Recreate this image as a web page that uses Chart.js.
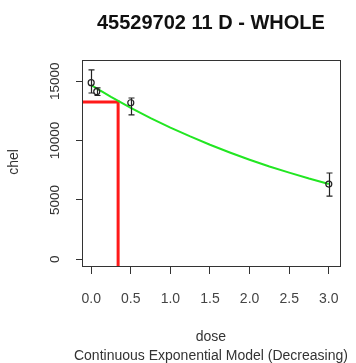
<!DOCTYPE html>
<html><head><meta charset="utf-8">
<script src="https://cdn.jsdelivr.net/npm/chart.js@4/dist/chart.umd.min.js"></script>
<style>html,body{margin:0;padding:0;background:#fff}canvas{display:block}</style>
</head><body>
<canvas id="c" width="356" height="363"></canvas>
<script>
// Observed group means with their confidence limits
const doses   = [0, 0.07, 0.5, 3.0];
const means   = [14880, 14120, 13190, 6340];
const lowerCI = [14010, 13800, 12160, 5330];
const upperCI = [15950, 14450, 13590, 7270];

// Fitted continuous exponential model, sampled along the dose axis
const fitDoses  = [0, 0.25, 0.5, 0.75, 1.0, 1.25, 1.5, 1.75, 2.0, 2.25, 2.5, 2.75, 3.0];
const fitValues = [14680, 13690, 12760, 11900, 11100, 10350, 9650, 9000, 8390, 7820, 7300, 6800, 6340];

// Benchmark dose and the response level it corresponds to
const bmd = 0.34;
const bmrLevel = 13250;

const xTicks = [0, 0.5, 1.0, 1.5, 2.0, 2.5, 3.0];
const yTicks = [0, 5000, 10000, 15000];

const titleText = '45529702 11 D - WHOLE';
const xTitle = 'dose';
const yTitle = 'chel';
const subTitle = 'Continuous Exponential Model (Decreasing)';

const X_MIN = -0.116, X_MAX = 3.14;
const Y_MIN = -565, Y_MAX = 16790;

const FONT = '"Liberation Sans", Arial, sans-serif';

const decor = {
  id: 'decor',
  afterDatasetsDraw(chart) {
    const ctx = chart.ctx, xs = chart.scales.x, ys = chart.scales.y;
    ctx.save();
    ctx.strokeStyle = '#222';
    ctx.lineWidth = 1.2;
    for (let i = 0; i < doses.length; i++) {
      const px = Math.round(xs.getPixelForValue(doses[i])) + 0.5;
      const y1 = ys.getPixelForValue(lowerCI[i]);
      const y2 = ys.getPixelForValue(upperCI[i]);
      ctx.beginPath();
      ctx.moveTo(px, y1); ctx.lineTo(px, y2);
      ctx.moveTo(px - 3, y1); ctx.lineTo(px + 3, y1);
      ctx.moveTo(px - 3, y2); ctx.lineTo(px + 3, y2);
      ctx.stroke();
    }
    ctx.restore();
  },
  afterDraw(chart) {
    const ctx = chart.ctx, a = chart.chartArea, ys = chart.scales.y;
    ctx.save();
    // plot frame
    ctx.strokeStyle = '#333';
    ctx.lineWidth = 1;
    ctx.strokeRect(Math.round(a.left) + 0.5, Math.round(a.top) + 0.5,
                   Math.round(a.right - a.left), Math.round(a.bottom - a.top));
    const cx = (a.left + a.right) / 2;
    ctx.fillStyle = '#111';
    ctx.textAlign = 'center';
    ctx.textBaseline = 'middle';
    ctx.font = 'bold 20px ' + FONT;
    ctx.fillText(titleText, cx, 23);
    ctx.fillStyle = '#333';
    ctx.font = '14px ' + FONT;
    ctx.fillText(xTitle, cx, 337);
    ctx.fillText(subTitle, cx, 356);
    // y tick labels, rotated
    ctx.font = '13.5px ' + FONT;
    ys.ticks.forEach(t => {
      const py = ys.getPixelForValue(t.value);
      ctx.save();
      ctx.translate(55, py);
      ctx.rotate(-Math.PI / 2);
      ctx.fillText(String(t.value), 0, 0);
      ctx.restore();
    });
    ctx.font = '14px ' + FONT;
    ctx.save();
    ctx.translate(14, 162);
    ctx.rotate(-Math.PI / 2);
    ctx.fillText(yTitle, 0, 0);
    ctx.restore();
    ctx.restore();
  }
};

new Chart(document.getElementById('c'), {
  type: 'scatter',
  data: {
    datasets: [
      {
        label: 'model',
        data: fitDoses.map((d, i) => ({ x: d, y: fitValues[i] })),
        showLine: true,
        borderColor: '#22e622',
        borderWidth: 2,
        pointRadius: 0,
        order: 1
      },
      {
        label: 'BMD',
        data: [{ x: X_MIN, y: bmrLevel }, { x: bmd, y: bmrLevel }, { x: bmd, y: Y_MIN }],
        showLine: true,
        borderColor: '#ff1a1a',
        borderWidth: 3,
        pointRadius: 0,
        order: 2
      },
      {
        label: 'observed',
        data: doses.map((d, i) => ({ x: d, y: means[i] })),
        pointRadius: 3,
        pointBorderWidth: 1.2,
        borderColor: '#222',
        backgroundColor: 'rgba(255,255,255,0)',
        order: 0
      }
    ]
  },
  options: {
    responsive: false,
    animation: false,
    events: [],
    layout: { padding: { top: 60, right: 11, left: 0, bottom: 0 } },
    plugins: { legend: { display: false }, tooltip: { enabled: false }, title: { display: false } },
    scales: {
      x: {
        type: 'linear',
        min: X_MIN,
        max: X_MAX,
        afterBuildTicks: s => { s.ticks = xTicks.map(v => ({ value: v })); },
        afterFit: s => { s.height = 97; },
        border: { display: false },
        grid: { drawOnChartArea: false, drawTicks: true, tickLength: 8, color: '#333', lineWidth: 1 },
        ticks: {
          color: '#444',
          font: { family: FONT, size: 14 },
          padding: 17,
          maxRotation: 0,
          autoSkip: false,
          callback: v => Number(v).toFixed(1)
        }
      },
      y: {
        type: 'linear',
        min: Y_MIN,
        max: Y_MAX,
        afterBuildTicks: s => { s.ticks = yTicks.map(v => ({ value: v })); },
        afterFit: s => { s.width = 82; },
        border: { display: false },
        grid: { drawOnChartArea: false, drawTicks: true, tickLength: 6, color: '#333', lineWidth: 1 },
        ticks: { display: false }
      }
    }
  },
  plugins: [decor]
});
</script>
</body></html>
